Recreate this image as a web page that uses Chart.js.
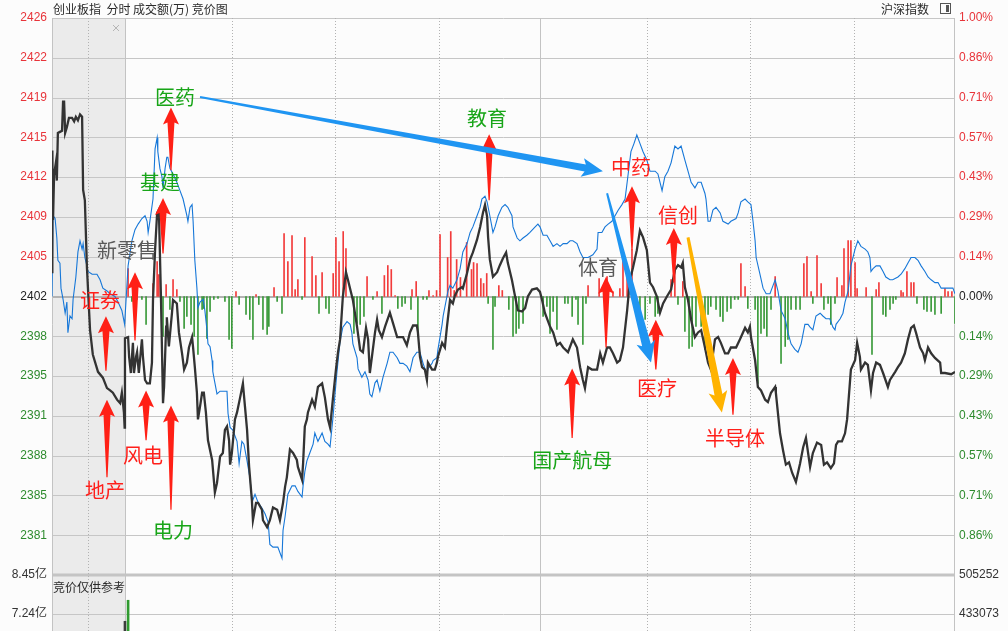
<!DOCTYPE html>
<html lang="zh">
<head>
<meta charset="utf-8">
<title>创业板指 分时 竞价图</title>
<script src="https://cdn.jsdelivr.net/npm/chart.js@4.4.1/dist/chart.umd.min.js"></script>
<style>
  html, body { margin: 0; padding: 0; background: #fcfcfc; }
  canvas { display: block; }
</style>
</head>
<body>
<canvas id="chart" width="1008" height="631"></canvas>
<script>
//<------------------------------- data ------------------------------->

// previous close of 创业板指 = the 0.00% line
const preClose = 2402.2;

// grid rows, in steps of 1/7 percent from the previous close
const rowSteps = [7, 6, 5, 4, 3, 2, 1, 0, -1, -2, -3, -4, -5, -6];

// volume panel ticks
const volTickVals = [8.45, 7.24];
const volTickText = ['8.45亿', '7.24亿'];
const volTickRight = [505252, 433073];

// time = minutes from 9:30, auction (9:15-9:25) sits before 0
const blackTime = [
  -21.1, -21.0, -20.8, -20.5, -20.0, -19.7, -19.4, -18.8, -18.2, -17.9,
  -17.6, -17.3, -16.8, -16.2, -15.3, -14.7, -14.2, -13.6, -13.0, -12.4,
  -12.1, -11.6, -11.0, -10.1, -9.3, -7.8, -6.4, -5.2, -4.3, -3.5,
  -2.3, -1.4, -0.9, -0.3, -0.1,
  0.0, 0.9, 1.2, 1.7, 2.3, 2.6, 3.2, 3.5, 4.0, 4.9,
  5.2, 5.8, 6.4, 7.2, 7.8, 8.1, 8.7, 9.3, 9.8, 10.4,
  10.7, 11.0, 11.3, 11.9, 12.1, 12.7, 13.6, 13.9, 15.0, 15.6,
  16.5, 17.1, 17.9, 18.5, 19.4, 19.7, 20.2, 20.8, 21.1, 21.7,
  22.3, 22.8, 23.4, 24.0, 25.2, 26.0, 26.6, 27.5, 28.3, 28.9,
  29.5, 30.1, 30.4, 30.9, 31.8, 32.4, 33.3, 34.1, 34.7, 35.3,
  35.9, 36.7, 37.0, 37.9, 38.5, 39.6, 39.9, 41.1, 41.9, 42.8,
  44.0, 44.8, 45.7, 46.3, 46.8, 47.7, 48.6, 49.7, 50.0, 51.2,
  51.5, 52.0, 52.6, 52.9, 54.1, 54.9, 55.8, 57.0, 57.8, 58.7,
  59.3, 60.1, 61.0, 61.6, 62.2, 63.0, 63.9, 64.5, 65.4, 65.9,
  67.1, 68.0, 68.8, 69.7, 70.3, 70.8, 71.4, 72.3, 72.9, 73.4,
  74.3, 75.2, 76.6, 77.5, 78.7, 79.5, 80.4, 81.5, 82.4, 83.3,
  84.4, 84.7, 85.3, 85.9, 86.7, 87.3, 87.6, 88.8, 89.6, 90.2,
  90.5, 91.7, 92.5, 93.1, 94.0, 94.8, 95.4, 96.3, 97.4, 97.7,
  98.9, 99.8, 100.6, 101.8, 102.7, 103.5, 104.1, 104.7, 105.0, 105.5,
  106.4, 107.6, 108.4, 109.3, 110.2, 110.7, 111.9, 112.8, 113.6, 114.8,
  115.7, 116.5, 117.7, 119.1, 120.0, 120.6, 121.4, 122.9, 123.8, 124.9,
  125.8, 126.7, 128.1, 129.5, 130.7, 131.6, 132.4, 133.0, 133.9, 135.0,
  136.5, 137.4, 138.2, 139.4, 140.2, 141.1, 142.3, 143.1, 144.0, 145.2,
  146.0, 146.9, 148.0, 148.9, 149.8, 150.9, 151.8, 152.7, 153.8, 154.7,
  155.6, 156.7, 157.9, 159.0, 159.9, 160.8, 161.3, 161.9, 162.8, 163.7,
  164.8, 165.7, 166.6, 167.7, 168.6, 169.4, 170.6, 171.5, 172.3, 173.5,
  174.4, 175.2, 176.7, 177.8, 178.7, 179.3, 180.1, 180.7, 181.0, 182.2,
  183.0, 183.9, 185.1, 185.9, 186.8, 188.0, 188.2, 189.4, 190.3, 191.1,
  192.0, 192.9, 194.0, 195.2, 196.1, 196.9, 198.1, 198.9, 200.1, 201.3,
  202.1, 203.0, 204.1, 205.0, 205.6, 206.2, 207.3, 208.2, 208.8, 209.9,
  211.1, 211.7, 212.5, 212.8, 214.0, 214.8, 215.7, 216.3, 217.2, 218.3,
  219.2, 220.6, 221.2, 222.7, 223.5, 224.4, 225.5, 226.4, 227.3, 228.1,
  228.7, 229.9, 230.8, 231.3, 232.2, 233.1, 234.2, 235.7, 236.0, 237.1,
  238.9, 240.0
];
const blackPrice = [
  2404.3, 2414.8, 2408.8, 2412.7, 2413.7, 2412.2, 2416.3, 2416.4, 2416.5, 2419.0,
  2419.0, 2416.3, 2416.8, 2417.6, 2417.6, 2417.3, 2417.7, 2417.4, 2417.9, 2417.7,
  2411.4, 2410.5, 2404.7, 2399.3, 2397.2, 2395.7, 2395.2, 2394.3, 2394.1, 2393.9,
  2393.3, 2393.0, 2393.9, 2392.2, 2390.9,
  2398.6, 2398.7, 2397.0, 2395.6, 2398.2, 2395.6, 2397.0, 2397.4, 2395.6, 2398.5,
  2397.0, 2395.0, 2394.7, 2394.7, 2396.5, 2401.9, 2406.2, 2409.4, 2409.7, 2402.2,
  2397.6, 2393.0, 2394.4, 2399.6, 2400.4, 2397.9, 2400.8, 2401.9, 2401.6, 2399.1,
  2397.3, 2395.9, 2396.5, 2397.8, 2398.7, 2397.8, 2396.1, 2393.9, 2391.6, 2392.7,
  2393.9, 2393.9, 2392.2, 2389.8, 2388.1, 2385.3, 2386.1, 2388.4, 2388.7, 2390.7,
  2391.0, 2389.8, 2387.7, 2388.7, 2391.6, 2392.2, 2393.5, 2394.7, 2392.7, 2390.7,
  2387.5, 2384.6, 2382.9, 2384.4, 2384.4, 2383.8, 2382.9, 2382.3, 2382.9, 2384.0,
  2383.8, 2382.9, 2384.4, 2385.8, 2386.6, 2389.0, 2388.7, 2388.1, 2387.5, 2386.4,
  2387.8, 2391.0, 2391.6, 2392.2, 2393.3, 2392.7, 2394.4, 2394.7, 2393.5, 2391.6,
  2390.9, 2393.3, 2395.9, 2397.4, 2398.5, 2402.2, 2404.3, 2403.6, 2402.5, 2401.9,
  2399.6, 2397.6, 2397.4, 2399.5, 2398.5, 2395.6, 2397.0, 2399.1, 2400.2, 2399.3,
  2398.7, 2399.6, 2400.8, 2399.9, 2398.7, 2398.7, 2398.7, 2398.0, 2399.1, 2399.7,
  2399.7, 2399.1, 2397.0, 2396.1, 2395.9, 2395.0, 2396.5, 2395.9, 2395.9, 2396.5,
  2397.0, 2398.2, 2397.8, 2399.6, 2401.9, 2401.6, 2402.3, 2402.8, 2403.0, 2402.9,
  2404.2, 2405.4, 2406.0, 2407.1, 2408.2, 2409.4, 2410.1, 2409.1, 2407.3, 2405.4,
  2403.9, 2404.3, 2404.9, 2405.5, 2406.0, 2405.1, 2403.6, 2402.2, 2401.0, 2400.9,
  2401.2, 2402.2, 2402.8, 2402.9, 2402.6, 2401.9, 2400.8, 2399.6, 2399.1, 2398.0,
  2398.2, 2397.8, 2397.4, 2398.5, 2397.8, 2396.1, 2395.0, 2394.3, 2396.1, 2395.9,
  2395.9, 2397.3, 2396.5, 2397.8, 2397.8, 2397.3, 2396.5, 2396.7, 2397.8, 2401.0,
  2403.6, 2404.7, 2406.2, 2407.9, 2407.3, 2406.2, 2403.4, 2403.0, 2402.2, 2400.8,
  2401.6, 2402.2, 2402.8, 2404.5, 2404.9, 2404.7, 2405.1, 2403.0, 2401.9, 2400.2,
  2398.7, 2399.1, 2399.3, 2397.8, 2396.5, 2395.9, 2398.5, 2398.7, 2398.2, 2397.3,
  2397.3, 2397.8, 2397.8, 2398.5, 2399.1, 2399.5, 2399.1, 2399.6, 2398.7, 2396.7,
  2394.4, 2394.1, 2393.3, 2393.1, 2393.9, 2394.4, 2393.9, 2390.4, 2388.9, 2387.7,
  2387.9, 2387.0, 2386.2, 2387.8, 2389.2, 2390.0, 2387.5, 2388.7, 2389.6, 2389.4,
  2387.7, 2387.9, 2387.4, 2387.8, 2389.4, 2389.7, 2389.7, 2390.4, 2391.6, 2395.9,
  2396.7, 2398.2, 2397.0, 2395.9, 2396.5, 2396.3, 2394.1, 2395.6, 2396.5, 2396.3,
  2395.6, 2394.4, 2395.0, 2395.7, 2396.1, 2396.5, 2397.3, 2398.5, 2399.5, 2399.7,
  2399.1, 2397.8, 2397.3, 2396.7, 2397.8, 2397.3, 2396.9, 2396.5, 2395.6, 2395.6,
  2395.5, 2395.7
];

// 沪深指数, percent change
const blueTime = [
  -21.1, -20.8, -20.2, -19.7, -19.4, -18.8, -18.5, -17.9, -17.3, -16.8,
  -16.5, -15.9, -15.3, -15.0, -14.2, -13.6, -13.0, -12.4, -12.1, -11.6,
  -11.0, -10.7, -9.5, -8.1, -7.2, -6.4, -5.2, -4.3, -2.9, -2.0,
  -0.9, -0.1,
  0.9, 2.0, 2.9, 3.8, 4.9, 5.8, 6.4, 6.7, 7.2, 8.1,
  8.7, 9.3, 9.5, 10.1, 10.7, 11.0, 11.6, 12.1, 12.4, 13.0,
  13.9, 15.0, 15.9, 16.8, 17.9, 18.2, 18.8, 19.4, 19.7, 20.2,
  20.8, 21.1, 21.7, 22.6, 23.1, 23.7, 24.0, 24.6, 25.2, 25.4,
  26.0, 26.6, 27.5, 28.3, 29.5, 29.8, 30.4, 31.2, 32.4, 33.0,
  33.8, 34.4, 35.3, 36.1, 36.7, 37.0, 37.6, 38.5, 39.6, 40.5,
  41.4, 41.9, 42.8, 44.2, 45.4, 45.7, 46.3, 46.8, 47.1, 48.3,
  49.2, 50.0, 51.2, 51.5, 52.0, 52.6, 53.5, 54.4, 54.9, 55.8,
  57.0, 57.8, 58.7, 59.3, 60.1, 61.3, 62.2, 63.0, 64.2, 65.1,
  65.6, 65.9, 67.1, 67.4, 68.5, 69.4, 70.3, 70.8, 71.4, 72.3,
  72.9, 73.7, 74.6, 75.8, 76.6, 77.5, 78.7, 79.5, 80.4, 81.5,
  82.4, 83.3, 84.4, 85.3, 86.2, 87.3, 87.6, 88.8, 89.1, 90.2,
  90.5, 91.7, 92.0, 93.4, 94.0, 94.8, 96.0, 96.9, 97.7, 98.9,
  99.8, 100.6, 101.8, 102.7, 103.2, 104.1, 104.7, 105.5, 106.4, 107.0,
  107.9, 109.0, 109.9, 110.7, 111.9, 112.2, 113.4, 114.2, 115.1, 116.2,
  117.1, 118.6, 119.4, 120.0, 120.9, 122.0, 122.9, 123.8, 124.9, 125.8,
  126.7, 127.8, 128.7, 129.5, 130.7, 131.6, 132.4, 133.9, 135.3, 136.5,
  136.8, 137.9, 138.8, 139.7, 140.8, 141.7, 142.6, 143.7, 144.6, 145.4,
  146.3, 147.2, 148.0, 148.9, 149.8, 150.9, 151.8, 153.3, 154.1, 155.3,
  156.1, 157.0, 157.9, 159.0, 159.9, 160.8, 161.9, 162.8, 163.7, 164.8,
  165.7, 166.6, 167.7, 168.0, 168.6, 169.2, 170.0, 170.9, 172.1, 172.9,
  174.4, 175.2, 176.7, 177.3, 178.1, 179.3, 180.1, 181.0, 181.6, 182.2,
  182.5, 183.6, 184.5, 185.4, 186.5, 187.4, 188.0, 188.8, 189.7, 190.9,
  191.7, 192.6, 193.7, 194.6, 195.5, 196.6, 197.5, 198.1, 198.9, 199.8,
  201.0, 201.8, 202.7, 203.8, 204.7, 205.3, 205.6, 206.8, 207.6, 208.2,
  209.1, 209.9, 211.1, 211.9, 212.8, 214.0, 214.8, 215.4, 215.7, 216.3,
  217.2, 218.3, 219.2, 220.0, 221.2, 222.0, 223.5, 224.4, 225.5, 226.4,
  227.3, 228.4, 229.3, 230.2, 231.3, 232.2, 233.1, 234.2, 235.1, 236.0,
  237.1, 238.6, 239.4, 240.0
];
const bluePct = [
  0.00, 0.29, 0.28, 0.21, 0.13, 0.12, 0.03, -0.01, -0.06, -0.02,
  -0.13, -0.07, -0.08, -0.01, 0.07, 0.16, 0.20, 0.17, 0.19, 0.14,
  0.11, 0.09, 0.08, 0.08, 0.06, 0.03, 0.02, 0.01, 0.00, -0.02,
  -0.05, -0.10,
  0.11, 0.20, 0.24, 0.26, 0.28, 0.29, 0.27, 0.23, 0.27, 0.35,
  0.53, 0.57, 0.52, 0.46, 0.43, 0.39, 0.46, 0.50, 0.50, 0.46,
  0.44, 0.41, 0.38, 0.35, 0.29, 0.27, 0.32, 0.33, 0.27, 0.13,
  0.03, -0.04, -0.02, -0.01, -0.05, -0.12, -0.17, -0.18, -0.23, -0.27,
  -0.31, -0.35, -0.34, -0.34, -0.34, -0.42, -0.47, -0.48, -0.52, -0.60,
  -0.52, -0.53, -0.59, -0.65, -0.72, -0.73, -0.71, -0.74, -0.76, -0.78,
  -0.81, -0.89, -0.90, -0.90, -0.94, -0.84, -0.79, -0.74, -0.71, -0.68,
  -0.68, -0.70, -0.72, -0.68, -0.63, -0.59, -0.56, -0.53, -0.49, -0.52,
  -0.49, -0.52, -0.53, -0.54, -0.44, -0.27, -0.16, -0.11, -0.09, -0.10,
  -0.13, -0.17, -0.22, -0.26, -0.29, -0.27, -0.30, -0.35, -0.36, -0.31,
  -0.30, -0.34, -0.29, -0.24, -0.20, -0.20, -0.22, -0.24, -0.24, -0.25,
  -0.27, -0.22, -0.20, -0.20, -0.24, -0.28, -0.26, -0.24, -0.23, -0.22,
  -0.19, -0.10, -0.07, 0.02, 0.04, 0.03, 0.06, 0.10, 0.16, 0.19,
  0.23, 0.25, 0.29, 0.32, 0.35, 0.36, 0.34, 0.29, 0.23, 0.25,
  0.29, 0.32, 0.33, 0.32, 0.29, 0.25, 0.21, 0.20, 0.21, 0.22,
  0.23, 0.25, 0.26, 0.25, 0.22, 0.22, 0.20, 0.18, 0.19, 0.18,
  0.19, 0.19, 0.20, 0.20, 0.19, 0.16, 0.14, 0.14, 0.15, 0.17,
  0.23, 0.23, 0.25, 0.26, 0.27, 0.29, 0.31, 0.33, 0.35, 0.43,
  0.52, 0.55, 0.58, 0.55, 0.52, 0.49, 0.45, 0.45, 0.44, 0.38,
  0.43, 0.45, 0.48, 0.54, 0.53, 0.54, 0.49, 0.45, 0.41, 0.39,
  0.41, 0.41, 0.37, 0.35, 0.27, 0.27, 0.31, 0.32, 0.30, 0.27,
  0.26, 0.27, 0.28, 0.30, 0.34, 0.35, 0.34, 0.33, 0.27, 0.20,
  0.14, 0.08, 0.03, 0.01, 0.01, 0.04, 0.06, 0.02, -0.05, -0.08,
  -0.13, -0.17, -0.19, -0.20, -0.17, -0.10, -0.10, -0.11, -0.12, -0.07,
  -0.06, -0.07, -0.08, -0.08, -0.11, -0.12, -0.10, -0.08, -0.06, -0.02,
  0.02, 0.11, 0.17, 0.20, 0.18, 0.17, 0.16, 0.14, 0.09, 0.10,
  0.11, 0.11, 0.09, 0.07, 0.06, 0.06, 0.07, 0.08, 0.10, 0.12,
  0.14, 0.14, 0.13, 0.11, 0.09, 0.07, 0.06, 0.05, 0.05, 0.03,
  0.03, 0.03, 0.03, 0.01
];

// red / green bars around the 0.00% line (signed, arbitrary units)
const spreadTime = [
  0.9, 2.0, 3.5, 4.9, 6.1, 8.1, 9.3, 9.8, 11.0, 11.9,
  13.0, 13.9, 15.0, 15.9, 17.1, 17.9, 19.1, 20.0, 21.1, 22.3,
  22.8, 23.7, 24.6, 25.7, 26.9, 28.9, 30.1, 30.9, 32.1, 33.0,
  35.0, 36.1, 37.0, 37.9, 38.7, 39.9, 41.1, 41.6, 43.1, 44.0,
  45.4, 46.0, 47.1, 48.3, 49.2, 50.0, 51.2, 52.0, 54.1, 55.2,
  56.1, 57.0, 58.1, 59.0, 60.2, 61.0, 61.9, 63.1, 63.9, 66.2,
  67.1, 68.0, 69.1, 70.0, 71.7, 72.9, 74.3, 75.0, 76.0, 77.0,
  78.1, 78.9, 80.1, 81.0, 82.7, 83.0, 84.2, 84.7, 86.2, 87.3,
  87.9, 89.1, 90.1, 91.1, 93.3, 94.2, 95.2, 95.9, 97.0, 98.8,
  100.2, 100.8, 101.8, 102.9, 103.7, 104.6, 105.0, 106.4, 107.0, 108.1,
  109.1, 111.0, 112.2, 113.1, 113.9, 115.1, 120.9, 122.0, 122.9, 123.8,
  124.9, 127.2, 128.1, 129.3, 130.4, 131.0, 132.4, 133.3, 133.9, 137.1,
  139.4, 141.1, 143.1, 144.0, 145.2, 146.6, 148.9, 150.4, 151.8, 153.3,
  154.1, 157.9, 159.0, 159.9, 161.3, 161.9, 163.1, 164.0, 165.1, 166.6,
  167.7, 168.6, 169.4, 170.9, 172.1, 172.9, 174.1, 175.2, 176.3, 177.3,
  178.1, 179.3, 180.1, 182.2, 183.0, 183.9, 184.8, 185.6, 186.8, 188.0,
  189.7, 190.9, 191.7, 192.6, 194.0, 195.2, 196.3, 197.2, 198.4, 198.9,
  200.1, 201.3, 202.1, 203.3, 204.1, 205.3, 205.9, 207.3, 207.9, 209.1,
  209.9, 211.1, 211.7, 214.3, 216.0, 217.2, 218.0, 219.2, 220.0, 221.2,
  222.1, 222.9, 224.4, 225.0, 226.1, 227.3, 228.1, 229.0, 231.0, 231.9,
  233.1, 234.2, 236.0, 237.1, 238.0, 239.1, 240.0
];
const spreadVal = [
  28, -5, -3, -3, -28, 13, 35, 22, -40, 12,
  -13, 17, 7, -5, -32, -20, -28, -40, -58, -13,
  -12, -42, -15, -3, -2, -5, -43, -52, 5, -8,
  -18, -23, -43, 2, -8, -33, -38, -30, 9, -5,
  -17, 63, 35, 61, 7, 17, -3, 59, 40, 21,
  -17, 24, -12, -17, 23, 59, 35, 65, 48, -37,
  -27, -28, -20, 20, -3, 5, -17, 21, 31, 27,
  1, -12, -10, -7, -13, 7, 15, -40, -3, -3,
  6, 1, 6, 62, 39, 65, 6, 37, 19, 54,
  27, 34, 33, 18, 13, 23, -7, -53, -10, 11,
  6, -13, -40, -37, -32, -27, -20, -10, -37, -15,
  -33, -7, -7, -20, -3, -28, -48, -7, 11, 18,
  20, 5, 8, 47, 30, 47, -13, -23, -7, -20,
  -17, 17, 32, -8, 15, -35, -52, -50, -30, -30,
  -53, -18, -10, -13, -20, -25, -15, -12, -3, -3,
  33, 10, -12, -13, -87, -37, -32, -40, -13, 20,
  -67, -50, -43, -13, -13, -13, 33, 40, 5, -7,
  41, 13, -13, -7, -28, -7, 19, 11, 48, 56,
  56, 34, 8, 9, -58, 7, 14, -18, -20, -13,
  -7, -3, 6, 4, 25, 14, 14, -7, -13, -15,
  -15, -18, -17, 8, 5, 5, -27
];

// 成交额 bars that reach into the visible part of the lower panel (亿)
const volTime = [0.0, 0.9];
const volVal = [7.02, 7.67];

//<------------------------------- notes drawn on the chart ------------------------------->

const RED = '#ff1f1a', GREEN = '#18a518', GREY = '#5a5a5a';

const tags = [
  { text: '医药', t: 14.5, p: 2419.4, color: GREEN },
  { text: '基建', t: 10.1, p: 2412.0, color: GREEN },
  { text: '新零售', t: 0.6, p: 2406.2, color: GREY },
  { text: '证券', t: -7.2, p: 2401.9, color: RED },
  { text: '地产', t: -5.8, p: 2385.5, color: RED },
  { text: '风电', t: 5.2, p: 2388.5, color: RED },
  { text: '电力', t: 13.9, p: 2382.0, color: GREEN },
  { text: '教育', t: 104.7, p: 2417.6, color: GREEN },
  { text: '中药', t: 146.3, p: 2413.3, color: RED },
  { text: '体育', t: 136.8, p: 2404.7, color: GREY },
  { text: '国产航母', t: 129.3, p: 2388.1, color: GREEN },
  { text: '医疗', t: 153.8, p: 2394.3, color: RED },
  { text: '信创', t: 159.9, p: 2409.2, color: RED },
  { text: '半导体', t: 176.4, p: 2390.0, color: RED }
];

// [time, tip price, tail price]
const upArrows = [
  [13.3, 2418.5, 2413.1], [11.0, 2410.7, 2405.9], [2.9, 2404.3, 2398.4],
  [-5.5, 2400.5, 2395.8], [-5.2, 2393.3, 2386.6], [6.1, 2394.1, 2389.8],
  [13.3, 2392.8, 2383.8], [105.3, 2416.2, 2410.5], [146.6, 2411.7, 2406.2],
  [139.1, 2403.9, 2397.8], [129.3, 2396.0, 2390.0], [153.5, 2400.2, 2395.9],
  [158.7, 2408.1, 2403.4], [175.8, 2396.9, 2392.0]
];

const trendArrows = [
  { from: [21.7, 2419.4], to: [138.2, 2413.0], color: '#1f95f2', w0: 2, w1: 7 },
  { from: [139.4, 2411.1], to: [152.1, 2396.5], color: '#1f95f2', w0: 2, w1: 9 },
  { from: [162.8, 2407.3], to: [172.6, 2392.2], color: '#ffb300', w0: 3, w1: 8 }
];

// vertical grid: solid at the open and at noon, dotted every half hour
const solidCols = [0, 120];
const dottedCols = [-10.7, 30.9, 60.7, 90.8, 150.9, 180.7, 210.8];

//<------------------------------- drawing helpers ------------------------------->

const numFont = { family: "'Liberation Sans', 'Noto Sans CJK SC', sans-serif", size: 12 };
const AX_RED = '#e8343a', AX_GREEN = '#2e8b2e';

function upArrow(ctx, x, yTip, yTail) {
  const headH = 17, headW = 8, neck = 3.5;
  ctx.beginPath();
  ctx.moveTo(x, yTip);
  ctx.lineTo(x + headW, yTip + headH);
  ctx.lineTo(x + neck, yTip + headH - 2);
  ctx.lineTo(x + 0.6, yTail);
  ctx.lineTo(x - 0.6, yTail);
  ctx.lineTo(x - neck, yTip + headH - 2);
  ctx.lineTo(x - headW, yTip + headH);
  ctx.closePath();
  ctx.fill();
}

function taperArrow(ctx, x0, y0, x1, y1, w0, w1, color) {
  const headL = 18, headW = 19;
  const dx = x1 - x0, dy = y1 - y0, len = Math.hypot(dx, dy);
  const ux = dx / len, uy = dy / len, nx = -uy, ny = ux;
  const bx = x1 - ux * headL, by = y1 - uy * headL;
  ctx.fillStyle = color;
  ctx.beginPath();
  ctx.moveTo(x0 + nx * w0 / 2, y0 + ny * w0 / 2);
  ctx.lineTo(bx + nx * w1 / 2, by + ny * w1 / 2);
  ctx.lineTo(bx + nx * headW / 2 - ux * 3, by + ny * headW / 2 - uy * 3);
  ctx.lineTo(x1, y1);
  ctx.lineTo(bx - nx * headW / 2 - ux * 3, by - ny * headW / 2 - uy * 3);
  ctx.lineTo(bx - nx * w1 / 2, by - ny * w1 / 2);
  ctx.lineTo(x0 - nx * w0 / 2, y0 - ny * w0 / 2);
  ctx.closePath();
  ctx.fill();
}

// keep the stacked value axes from asking for extra room at the edges
function fixWidth(w) {
  return sc => {
    sc.width = w;
    sc.paddingTop = 0;
    sc.paddingBottom = 0;
  };
}

const panelPlugin = {
  id: 'panel',
  beforeDraw(chart) {
    const ctx = chart.ctx;
    ctx.save();
    ctx.fillStyle = '#fcfcfc';
    ctx.fillRect(0, 0, chart.width, chart.height);
    ctx.restore();
  },
  beforeDatasetsDraw(chart) {
    const { ctx, chartArea: a, scales: s } = chart;
    const X = v => s.x.getPixelForValue(v);
    ctx.save();

    // auction zone
    ctx.fillStyle = '#ebebeb';
    ctx.fillRect(a.left, a.top, X(0) - a.left, a.bottom - a.top);

    const hline = (py, w, c) => {
      ctx.lineWidth = w; ctx.strokeStyle = c;
      ctx.beginPath(); ctx.moveTo(a.left, py); ctx.lineTo(a.right, py); ctx.stroke();
    };
    const vline = (px, dash) => {
      ctx.setLineDash(dash ? [1, 2] : []);
      ctx.lineWidth = 1; ctx.strokeStyle = dash ? '#b2b2b2' : '#c3c3c3';
      ctx.beginPath(); ctx.moveTo(px, a.top); ctx.lineTo(px, a.bottom); ctx.stroke();
    };

    s.y.ticks.forEach(t => {
      const py = Math.round(s.y.getPixelForValue(t.value));
      if (Math.abs(t.value - preClose) < 0.01) hline(py, 2, '#b3b3b3');
      else hline(py + 0.5, 1, '#c6c6c6');
    });
    hline(Math.round(s.y.bottom), 3, '#c4c4c4');
    hline(Math.round(s.yv.getPixelForValue(volTickVals[1])) + 0.5, 1, '#c6c6c6');

    dottedCols.forEach(v => vline(Math.round(X(v)) + 0.5, true));
    solidCols.forEach(v => vline(Math.round(X(v)) + 0.5, false));
    vline(a.left + 0.5, false);
    vline(a.right - 0.5, false);
    ctx.restore();
  },
  afterDatasetsDraw(chart) {
    const { ctx, scales: s } = chart;
    const X = v => s.x.getPixelForValue(v);
    const Y = v => s.y.getPixelForValue(v);
    ctx.save();

    ctx.fillStyle = '#ff2016';
    upArrows.forEach(([t, tip, tail]) => upArrow(ctx, X(t), Y(tip), Y(tail)));

    trendArrows.forEach(r => taperArrow(ctx, X(r.from[0]), Y(r.from[1]), X(r.to[0]), Y(r.to[1]), r.w0, r.w1, r.color));

    ctx.font = "20px 'Noto Sans CJK SC', sans-serif";
    ctx.textAlign = 'center';
    ctx.textBaseline = 'middle';
    tags.forEach(g => {
      ctx.fillStyle = g.color;
      ctx.fillText(g.text, X(g.t), Y(g.p));
    });
    ctx.restore();
  },
  afterDraw(chart) {
    const { ctx, scales: s } = chart;
    ctx.save();
    ctx.font = "12px 'Noto Sans CJK SC', sans-serif";
    ctx.textBaseline = 'middle';
    ctx.fillStyle = '#2a2a2a';
    ctx.textAlign = 'left';
    ctx.fillText('创业板指  分时 成交额(万) 竞价图', 53, 9);
    ctx.fillText('沪深指数', 881, 9);
    ctx.fillText('竞价仅供参考', 53, s.y.bottom + 12);

    // small panel switch icon
    ctx.strokeStyle = '#555';
    ctx.lineWidth = 1;
    ctx.strokeRect(940.5, 3.5, 10, 10);
    ctx.fillStyle = '#555';
    ctx.fillRect(946, 5, 3, 7);

    // close mark of the auction zone
    ctx.strokeStyle = '#b5b5b5';
    ctx.beginPath();
    ctx.moveTo(113, 25); ctx.lineTo(119, 31);
    ctx.moveTo(119, 25); ctx.lineTo(113, 31);
    ctx.stroke();
    ctx.restore();
  }
};

//<------------------------------- chart ------------------------------->

const pairs = (xs, ys, f = v => v) => xs.map((x, i) => ({ x: x, y: f(ys[i]) }));
const spreadUnit = 1 / 7 / 39.8;   // percent per unit of the spread bars

const ctx = document.getElementById('chart').getContext('2d');
const chart = new Chart(ctx, {
  type: 'line',
  data: {
    datasets: [
      {
        label: '创业板指',
        data: pairs(blackTime, blackPrice),
        yAxisID: 'y',
        borderColor: '#333333',
        borderWidth: 2.3,
        pointRadius: 0,
        tension: 0,
        order: 1
      },
      {
        label: '沪深指数',
        data: pairs(blueTime, bluePct),
        yAxisID: 'yp',
        borderColor: '#1677d8',
        borderWidth: 1.1,
        pointRadius: 0,
        tension: 0,
        order: 2
      },
      {
        type: 'bar',
        label: '竞价量差',
        data: pairs(spreadTime, spreadVal, v => v * spreadUnit),
        yAxisID: 'yp',
        backgroundColor: spreadVal.map(v => v > 0 ? '#f23b3b' : '#3a9a3a'),
        barThickness: 1,
        grouped: false,
        order: 3
      },
      {
        type: 'bar',
        label: '成交额',
        data: pairs(volTime, volVal),
        yAxisID: 'yv',
        backgroundColor: ['#3c3c3c', '#2f9a2f'],
        barThickness: 2,
        grouped: false,
        order: 3
      }
    ]
  },
  options: {
    responsive: false,
    animation: false,
    events: [],
    layout: { padding: { top: 18, left: 0, right: 0, bottom: 0 } },
    plugins: { legend: { display: false }, tooltip: { enabled: false } },
    scales: {
      x: { type: 'linear', min: -21.1, max: 240, offset: false, display: false },
      y: {
        type: 'linear', position: 'left', stack: 'left', stackWeight: 557, weight: 1,
        min: preClose * 0.99, max: preClose * 1.01,
        afterBuildTicks: sc => { sc.ticks = rowSteps.map(k => ({ value: preClose * (1 + k / 700) })); },
        afterFit: fixWidth(52),
        grid: { display: false, drawTicks: false },
        border: { display: false },
        ticks: {
          autoSkip: false, padding: 5, font: numFont,
          color: c => c.tick.value > preClose + 0.01 ? AX_RED : (c.tick.value < preClose - 0.01 ? AX_GREEN : '#222'),
          callback: v => String(Math.floor(v + 1e-6))
        }
      },
      yv: {
        type: 'linear', position: 'left', stack: 'left', stackWeight: 56, weight: 0,
        min: 6.72, max: 8.45,
        afterBuildTicks: sc => { sc.ticks = volTickVals.map(v => ({ value: v })); },
        afterFit: fixWidth(52),
        grid: { display: false, drawTicks: false },
        border: { display: false },
        ticks: {
          autoSkip: false, padding: 5, font: numFont, color: '#333',
          callback: (v, i) => volTickText[i]
        }
      },
      yp: {
        type: 'linear', position: 'right', stack: 'right', stackWeight: 557, weight: 0,
        min: -1, max: 1,
        afterBuildTicks: sc => { sc.ticks = rowSteps.map(k => ({ value: k / 7 })); },
        afterFit: fixWidth(53),
        grid: { display: false, drawTicks: false },
        border: { display: false },
        ticks: {
          autoSkip: false, padding: 4, font: numFont,
          color: c => c.tick.value > 1e-6 ? AX_RED : (c.tick.value < -1e-6 ? AX_GREEN : '#222'),
          callback: v => Math.abs(v).toFixed(2) + '%'
        }
      },
      yv2: {
        type: 'linear', position: 'right', stack: 'right', stackWeight: 56, weight: 1,
        min: 401812, max: 505252,
        afterBuildTicks: sc => { sc.ticks = volTickRight.map(v => ({ value: v })); },
        afterFit: fixWidth(53),
        grid: { display: false, drawTicks: false },
        border: { display: false },
        ticks: {
          autoSkip: false, padding: 4, font: numFont, color: '#333',
          callback: v => String(v)
        }
      }
    }
  },
  plugins: [panelPlugin]
});
</script>
</body>
</html>
